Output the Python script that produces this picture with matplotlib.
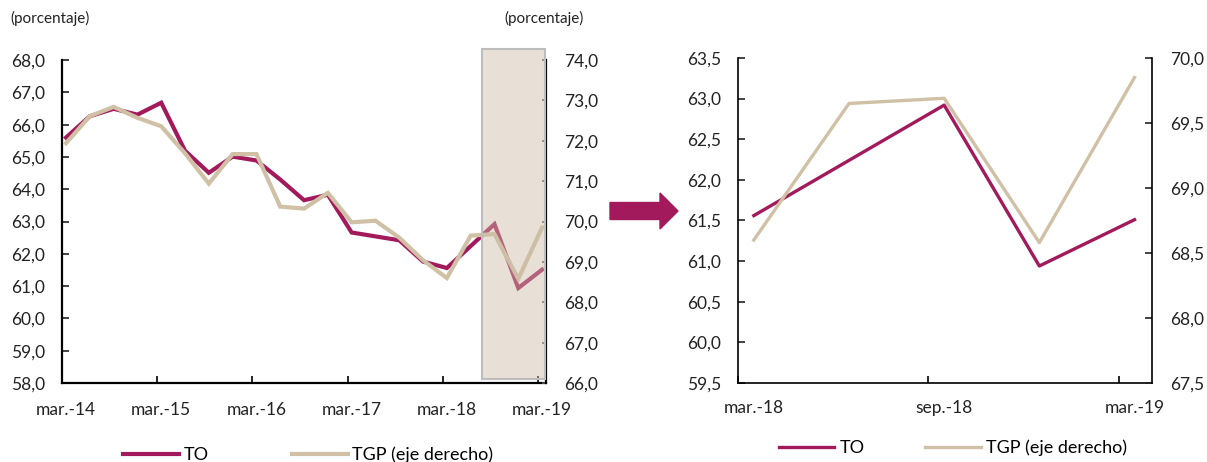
import numpy as np
import pandas as pd
import matplotlib
matplotlib.use("Agg")
import matplotlib.pyplot as plt
from matplotlib.patches import Rectangle, FancyArrow
from matplotlib.ticker import FuncFormatter, FixedLocator

plt.rcParams['font.family'] = ['Lato', 'DejaVu Sans']
plt.rcParams['font.size'] = 12.5

# quarterly data, mar.-14 .. mar.-19
dates = pd.date_range('2014-03-01', '2019-03-01', freq='3MS')
to_vals = [65.60, 66.26, 66.49, 66.31, 66.68, 65.19, 64.51, 65.01, 64.89, 64.30, 63.66,
           63.83, 62.66, 62.54, 62.42, 61.76, 61.56, 62.24, 62.92, 60.94, 61.51]
tgp_vals = [71.94, 72.61, 72.84, 72.57, 72.36, 71.69, 70.94, 71.67, 71.67, 70.37, 70.32,
            70.71, 69.98, 70.02, 69.60, 69.04, 68.60, 69.65, 69.69, 68.58, 69.85]
left_labels = ['mar.-14', 'mar.-15', 'mar.-16', 'mar.-17', 'mar.-18', 'mar.-19']
right_labels = ['mar.-18', 'sep.-18', 'mar.-19']
n_zoom = 5  # last five quarters shown on the right

C_TO = '#A21A5B'
C_TGP = '#CFC0A6'
FS = 12.5

months = np.array([(d.year - 2014) * 12 + d.month - 3 for d in dates])


def comma(v, pos):
    return f"{v:.1f}".replace('.', ',')


def style_axes(ax, ax2, lw):
    for a in (ax, ax2):
        a.spines['top'].set_visible(False)
        for s in ('left', 'bottom', 'right'):
            a.spines[s].set_linewidth(lw)
        a.yaxis.set_major_formatter(FuncFormatter(comma))
    ax.spines['right'].set_visible(False)
    ax2.spines['left'].set_visible(False)
    ax2.spines['bottom'].set_visible(False)
    ax.tick_params(axis='y', direction='in', length=5, width=1.2, pad=12, labelsize=FS,
                   colors='#222222')
    ax.tick_params(axis='x', which='major', length=0, pad=14, labelsize=FS, colors='#222222')
    ax.tick_params(axis='x', which='minor', direction='in', length=5, width=1.2)


fig = plt.figure(figsize=(12.07, 4.62), dpi=100)

# ---- left panel ----
ax = fig.add_axes([0.0514, 0.171, 0.401, 0.699])
ax2 = ax.twinx()
ax.plot(months, to_vals, color=C_TO, lw=3, solid_joinstyle='miter', label='TO')
ax2.plot(months, tgp_vals, color=C_TGP, lw=3, solid_joinstyle='miter', label='TGP (eje derecho)')
ax.set_xlim(-0.5, 60.5)
ax.set_ylim(58, 68)
ax2.set_ylim(66, 74)
ax.set_yticks(np.arange(58, 68.1, 1))
ax2.set_yticks(np.arange(66, 74.1, 1))
ax.set_xticks(months[::4])
ax.set_xticklabels(left_labels)
ax.xaxis.set_minor_locator(FixedLocator(months[::4] - 0.5))
style_axes(ax, ax2, 1.6)
ax2.tick_params(axis='y', direction='in', length=3, width=1.2, pad=13, labelsize=FS,
                colors='#222222')
ax2.tick_params(axis='y', color='#555555')

# shaded zoom region (last quarters)
x0 = months[-n_zoom] + 4.4
rect = Rectangle((x0, 0.011), 60.4 - x0, 1.022, transform=ax.get_xaxis_transform(),
                 facecolor=(0.80, 0.737, 0.643, 0.45), edgecolor='#BDBDBD', lw=1.5,
                 clip_on=False, zorder=5)
ax2.add_patch(rect)

fig.text(0.009, 0.96, '(porcentaje)', fontsize=11, va='center', ha='left', color='#222222')
fig.text(0.418, 0.96, '(porcentaje)', fontsize=11, va='center', ha='left', color='#222222')

h1, l1 = ax.get_legend_handles_labels()
h2, l2 = ax2.get_legend_handles_labels()
fig.legend(h1 + h2, l1 + l2, loc='center left', bbox_to_anchor=(0.102, 0.016), ncol=2,
           frameon=False, borderpad=0, borderaxespad=0, handlelength=3.1,
           handletextpad=0.25, columnspacing=4.6, fontsize=13)

# ---- right panel ----
bx = fig.add_axes([0.6114, 0.171, 0.343, 0.7035])
bx2 = bx.twinx()
zm = months[-n_zoom:] - months[-n_zoom]
bx.plot(zm, to_vals[-n_zoom:], color=C_TO, lw=2.4, label='TO')
bx2.plot(zm, tgp_vals[-n_zoom:], color=C_TGP, lw=2.4, label='TGP (eje derecho)')
bx.set_xlim(-0.5, 12.55)
bx.set_ylim(59.5, 63.5)
bx2.set_ylim(67.5, 70.0)
bx.set_yticks(np.arange(59.5, 63.51, 0.5))
bx2.set_yticks(np.arange(67.5, 70.01, 0.5))
bx.set_xticks(zm[::2])
bx.set_xticklabels(right_labels)
bx.xaxis.set_minor_locator(FixedLocator(zm[::2] - 0.5))
style_axes(bx, bx2, 1.2)
bx.tick_params(axis='x', pad=12)
bx2.tick_params(axis='y', direction='in', length=5, width=1.2, pad=13, labelsize=FS,
                colors='#222222')

hb1, lb1 = bx.get_legend_handles_labels()
hb2, lb2 = bx2.get_legend_handles_labels()
fig.legend(hb1 + hb2, lb1 + lb2, loc='center left', bbox_to_anchor=(0.645, 0.03), ncol=2,
           frameon=False, borderpad=0, borderaxespad=0, handlelength=3.1,
           handletextpad=0.3, columnspacing=3.3, fontsize=13)

# arrow between panels
arrow = FancyArrow(6.10, 2.51, 0.68, 0, width=0.17, head_width=0.36, head_length=0.18,
                   length_includes_head=True, color=C_TO, transform=fig.dpi_scale_trans)
fig.patches.append(arrow)

plt.savefig('out.png', dpi=100)
